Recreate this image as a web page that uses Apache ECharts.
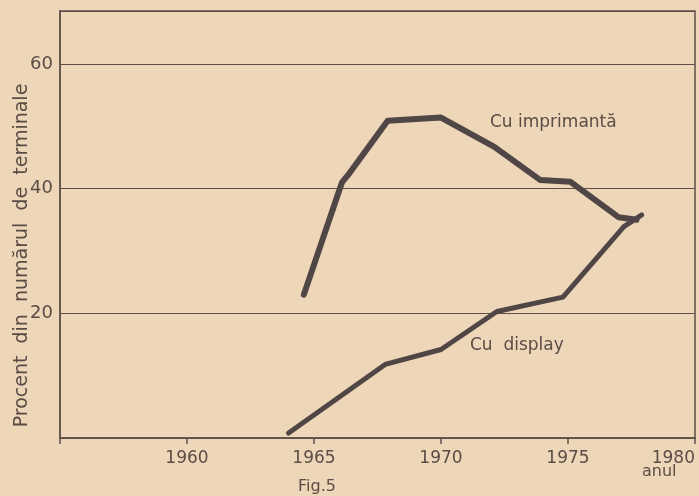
<!DOCTYPE html>
<html>
<head>
<meta charset="utf-8">
<script src="https://cdn.jsdelivr.net/npm/echarts/dist/echarts.min.js"></script>
<style>
  html, body { margin: 0; padding: 0; background: #eed6b9; }
  #fig5 { width: 699px; height: 496px; }
</style>
</head>
<body>
<div id="fig5"></div>
<script>
// date
var imprimantaAni = [1964.6, 1966.1, 1966.4, 1967.9, 1970.0, 1972.1, 1973.9, 1975.1, 1977.0, 1977.7];
var imprimantaProc = [23.0, 41.0, 42.5, 50.9, 51.4, 46.7, 41.4, 41.1, 35.4, 35.0];

var displayAni = [1964.0, 1967.8, 1970.0, 1972.2, 1974.8, 1977.2, 1977.9];
var displayProc = [0.8, 11.8, 14.2, 20.3, 22.6, 33.9, 35.8];

var aniTicks = [1960, 1965, 1970, 1975, 1980];
var procTicks = [20, 40, 60];

function perechi(xs, ys) {
    return xs.map(function (x, i) { return [x, ys[i]]; });
}

var culoareLinie = '#514646';
var font = 'DejaVu Sans';

var myChart = echarts.init(document.getElementById('fig5'));
var option = {
    backgroundColor: '#eed6b9',
    animation: false,
    grid: {
        left: 60, top: 11, right: 4, bottom: 58,
        outerBoundsMode: 'none',
        containLabel: false,
        show: true,
        borderColor: '#5e5048',
        borderWidth: 1.5,
        backgroundColor: 'transparent'
    },
    xAxis: {
        type: 'value',
        min: 1955,
        max: 1980,
        interval: 5,
        axisLine: { lineStyle: { color: '#5e5048', width: 1.5 } },
        axisTick: { show: true, length: 6, lineStyle: { color: '#5e5048', width: 1.5 } },
        splitLine: { show: false },
        axisLabel: {
            margin: 12,
            color: '#5a4d46',
            fontFamily: font,
            fontSize: 17,
            alignMaxLabel: 'right',
            formatter: function (v) { return aniTicks.indexOf(v) >= 0 ? String(v) : ''; }
        }
    },
    yAxis: {
        type: 'value',
        min: 0,
        max: 68.5,
        interval: 20,
        name: 'Procent  din  numărul  de  terminale',
        nameLocation: 'middle',
        nameGap: 28,
        nameMoveOverlap: false,
        nameTextStyle: {
            color: '#5a4d46',
            fontFamily: font,
            fontSize: 19,
            padding: [0, 62, 0, 0]
        },
        axisLine: { show: true, lineStyle: { color: '#5e5048', width: 1.5 } },
        axisTick: { show: false },
        splitLine: { lineStyle: { color: '#5e5048', width: 1.2 } },
        axisLabel: {
            margin: 7,
            color: '#5a4d46',
            fontFamily: font,
            fontSize: 18,
            formatter: function (v) { return procTicks.indexOf(v) >= 0 ? String(v) : ''; }
        }
    },
    graphic: [
        { type: 'text', left: 490, top: 114, style: { text: 'Cu imprimantă', fill: '#5a4d46', font: '17px "DejaVu Sans"' } },
        { type: 'text', left: 470, top: 337, style: { text: 'Cu  display', fill: '#5a4d46', font: '17px "DejaVu Sans"' } },
        { type: 'text', left: 642, top: 464, style: { text: 'anul', fill: '#5a4d46', font: '16px "DejaVu Sans"' } },
        { type: 'text', left: 298, top: 479, style: { text: 'Fig.5', fill: '#5a4d46', font: '16px "DejaVu Sans"' } }
    ],
    series: [{
        name: 'Cu imprimantă',
        type: 'line',
        data: perechi(imprimantaAni, imprimantaProc),
        showSymbol: false,
        lineStyle: { color: culoareLinie, width: 6, cap: 'round', join: 'round' }
    }, {
        name: 'Cu display',
        type: 'line',
        data: perechi(displayAni, displayProc),
        showSymbol: false,
        lineStyle: { color: culoareLinie, width: 5, cap: 'round', join: 'round' }
    }]
};
myChart.setOption(option);
</script>
</body>
</html>
